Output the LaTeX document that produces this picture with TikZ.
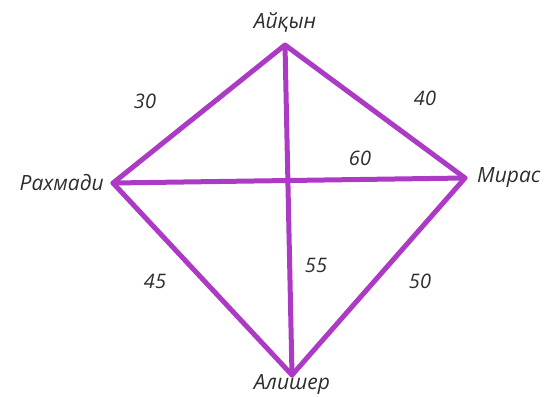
\documentclass[tikz,border=0pt]{standalone}
\usepackage{fontspec}
\setmainfont{Open Sans}
\usepackage{tikz}
\usetikzlibrary{positioning}
\definecolor{edgepurple}{RGB}{172,58,196}
\definecolor{labelgray}{RGB}{45,45,45}

\begin{document}
\begin{tikzpicture}[
    x=1pt, y=-1pt,
    edge/.style={draw=edgepurple, line width=5pt, line cap=round, line join=round},
    vlabel/.style={font=\fontsize{21}{23}\selectfont\itshape, text=labelgray, inner sep=1pt},
    weight/.style={font=\fontsize{20}{22}\selectfont\itshape, text=labelgray, inner sep=1pt}
]
\useasboundingbox (0,0) rectangle (545,396);

% vertices
\coordinate (ayk) at (285,45);
\coordinate (rah) at (113,183);
\coordinate (mir) at (465,178);
\coordinate (ali) at (292,375);

% edges
\draw[edge] (ayk) -- (rah) -- (ali) -- (mir) -- cycle;
\draw[edge] (ayk) -- (ali);
\draw[edge] (rah) -- (mir);

% names
\node[vlabel] (aykname) at (285,22) {Айқын};
\node[vlabel, left=8pt of rah] (rahname) {Рахмади};
\node[vlabel, right=11pt of mir] (mirname) {Мирас};
\node[vlabel] (aliname) at (292,385) {Алишер};

% weights
\node[weight] (w30) at (145,101) {30};
\node[weight] (w40) at (425,98) {40};
\node[weight] (w60) at (360,158) {60};
\node[weight] (w45) at (155,281) {45};
\node[weight] (w55) at (316,265) {55};
\node[weight] (w50) at (420,281) {50};
\end{tikzpicture}
\end{document}
